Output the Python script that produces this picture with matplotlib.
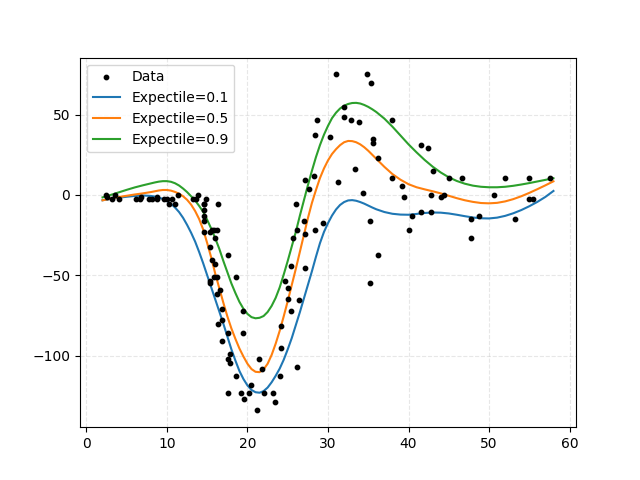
import matplotlib
matplotlib.use("Agg")
import matplotlib.pyplot as plt
import numpy as np

# motorcycle data: time vs acceleration
times = [2.4, 2.6, 3.2, 3.6, 4.0, 6.2, 6.6, 6.8, 7.8, 8.2, 8.8, 8.8, 9.6, 10.0, 10.2, 10.6, 11.0, 11.4, 13.2, 13.6,
         13.8, 14.6, 14.6, 14.6, 14.6, 14.6, 14.6, 14.8, 15.4, 15.4, 15.4, 15.4, 15.6, 15.6, 15.8, 15.8, 16.0, 16.0, 16.2, 16.2,
         16.2, 16.4, 16.4, 16.6, 16.8, 16.8, 16.8, 17.6, 17.6, 17.6, 17.6, 17.8, 17.8, 18.6, 18.6, 19.2, 19.4, 19.4, 19.6, 20.2,
         20.4, 21.2, 21.4, 21.8, 22.0, 23.2, 23.4, 24.0, 24.2, 24.2, 24.6, 25.0, 25.0, 25.4, 25.4, 25.6, 26.0, 26.2, 26.2, 26.4,
         27.0, 27.2, 27.2, 27.2, 27.6, 28.2, 28.4, 28.4, 28.6, 29.4, 30.2, 31.0, 31.2, 32.0, 32.0, 32.8, 33.4, 33.8, 34.4, 34.8,
         35.2, 35.2, 35.4, 35.6, 35.6, 36.2, 36.2, 38.0, 38.0, 39.2, 39.4, 40.0, 40.4, 41.6, 41.6, 42.4, 42.8, 42.8, 43.0, 44.0,
         44.4, 45.0, 46.6, 47.8, 47.8, 48.8, 50.6, 52.0, 53.2, 55.0, 55.0, 55.4, 57.6]
accel = [0.0, -1.3, -2.7, 0.0, -2.7, -2.7, -2.7, -1.3, -2.7, -2.7, -1.3, -2.7, -2.7, -2.7, -5.4, -2.7, -5.4, 0.0, -2.7, -2.7,
         0.0, -13.3, -5.4, -5.4, -9.3, -16.0, -22.8, -2.7, -22.8, -32.1, -53.5, -54.9, -40.2, -21.5, -21.5, -50.8, -42.9, -26.8, -21.5, -50.8,
         -61.7, -5.4, -80.4, -59.0, -71.0, -91.1, -77.7, -37.5, -85.6, -123.1, -101.9, -99.1, -104.4, -112.5, -50.8, -123.1, -85.6, -72.3, -127.2, -123.1,
         -117.9, -134.0, -101.9, -108.4, -123.1, -123.1, -128.5, -112.5, -95.1, -81.8, -53.5, -64.4, -57.6, -72.3, -44.3, -26.8, -5.4, -107.1, -21.5, -65.6,
         -16.0, -45.6, -24.2, 9.5, 4.0, 12.0, -21.5, 37.5, 46.9, -17.4, 36.2, 75.0, 8.1, 54.9, 48.2, 46.9, 16.0, 45.6, 1.3, 75.0,
         -16.0, -54.9, 69.6, 34.8, 32.1, -37.5, 22.8, 46.9, 10.7, 5.4, -1.3, -21.5, -13.3, 30.8, -10.7, 29.4, 0.0, -10.7, 14.7, -1.3,
         0.0, 10.7, 10.7, -26.8, -14.7, -13.3, 0.0, 10.7, -14.7, -2.7, 10.7, -2.7, 10.7]

# fitted expectile curves
grid_x = ([2, 3, 4, 5, 6, 7, 8]
          + [8.5, 9, 9.5, 10, 10.5, 11, 11.5, 12, 12.5, 13, 13.5, 14, 14.5, 15, 15.5, 16, 16.5, 17, 17.5, 18,
             18.5, 19, 19.5, 20, 20.5, 21, 21.5, 22, 22.5, 23, 23.5, 24, 24.5, 25, 25.5, 26, 26.5, 27, 27.5, 28,
             28.5, 29, 29.5, 30, 30.5, 31, 31.5, 32, 32.5, 33, 33.5, 34, 34.5, 35, 35.5, 36]
          + [37, 38, 39, 40, 41, 42, 43, 44, 45, 46, 47, 48, 49, 50, 51, 52, 53, 54, 55, 56, 57, 58])

exp_10 = ([-3.3, -2.4, -1.7, -1.1, -0.6, -0.3, -0.6]
          + [-1.0, -1.6, -2.5, -3.8, -5.5, -7.8, -10.6, -14.2, -18.6, -23.5, -29, -35.5, -42.5, -50, -57.5, -65, -72.5, -80, -88, -96,
             -103, -109.5, -114.5, -118.5, -121.3, -122.7, -123, -122, -119.8, -116.5, -112.5, -108, -102.5, -96, -89, -81, -73, -64.5, -56, -47.5,
             -38.5, -30, -23, -17.5, -12.8, -9, -6.2, -4.4, -3.4, -3.2, -3.6, -4.4, -5.4, -6.6, -7.8, -8.9]
          + [-10.6, -11.7, -12.2, -12.3, -11.8, -11.2, -10.9, -11.0, -11.5, -12.3, -13.2, -14.0, -14.5, -14.6, -14.1, -13.0, -11.4, -9.4, -7.0, -4.3, -1.2, 2.5])

exp_50 = ([-3.3, -2.3, -1.3, -0.5, 0.3, 1.0, 1.8]
          + [2.3, 2.8, 3.1, 3.1, 2.7, 1.9, 0.8, -0.8, -3, -6, -10, -15, -21.5, -30, -39, -49, -58, -67, -75.5, -83,
             -89.5, -95.5, -100.5, -105, -108.3, -110, -110.2, -108.5, -105, -99.5, -92.5, -84.5, -75.5, -66, -56, -46, -35.5, -25, -14.5, -5,
             3, 10.5, 16.5, 21.5, 25.5, 28.5, 31, 32.8, 33.6, 33.5, 32.8, 31.5, 29.7, 27.5, 25, 22.5]
          + [17.5, 13, 9.5, 6.7, 4.8, 3.5, 2.3, 1.0, -0.5, -2.0, -3.3, -4.3, -5.0, -5.2, -4.9, -4.0, -2.6, -0.8, 1.3, 3.6, 6.0, 8.5])

exp_90 = ([-1.5, 0.0, 1.6, 3.2, 4.7, 6.0, 7.2]
          + [7.8, 8.3, 8.6, 8.6, 8.2, 7.3, 5.9, 4.0, 1.8, -0.8, -3.5, -6.8, -10.5, -15.5, -21, -27, -33.5, -41, -48, -55,
             -61, -66.5, -70.8, -74, -76, -76.7, -76.4, -75.3, -72.8, -69, -64, -57.5, -49.5, -41, -32, -23, -13, -3.5, 6, 15,
             23.5, 31, 37.5, 43, 47.8, 51.2, 53.8, 55.5, 56.6, 57.2, 57.3, 56.9, 56, 54.8, 53.3, 51.6]
          + [47.5, 42.5, 37, 31.5, 26.5, 21.8, 17.6, 14.0, 11.0, 8.7, 7.0, 5.8, 5.1, 4.8, 4.8, 5.1, 5.7, 6.5, 7.4, 8.4, 9.4, 10.4])

fig, ax = plt.subplots(figsize=(6.4, 4.8), dpi=100)

ax.scatter(times, accel, s=10, color='black', label='Data', zorder=3)
ax.plot(grid_x, exp_10, label='Expectile=0.1', solid_joinstyle='round')
ax.plot(grid_x, exp_50, label='Expectile=0.5', solid_joinstyle='round')
ax.plot(grid_x, exp_90, label='Expectile=0.9', solid_joinstyle='round')

ax.grid(True, linestyle='--', alpha=0.3)
ax.legend(loc='upper left')

plt.savefig('out.png')
